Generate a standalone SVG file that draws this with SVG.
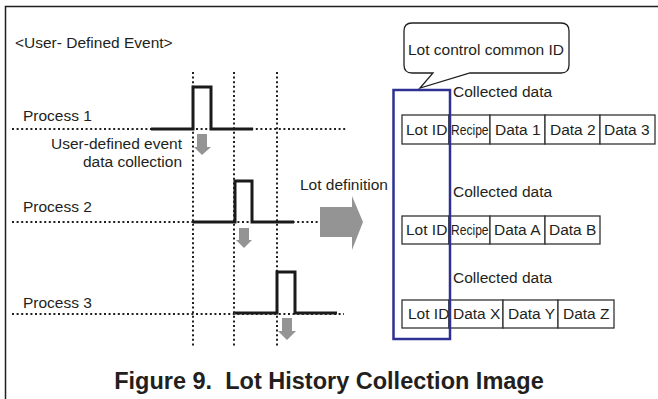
<svg xmlns="http://www.w3.org/2000/svg" width="658" height="399" viewBox="0 0 658 399">
<style>
text{font-family:"Liberation Sans",Arial,sans-serif;font-size:15.5px;fill:#231f20}
.dot{stroke:#231f20;stroke-width:2;stroke-dasharray:2 2.6;fill:none}
.sig{stroke:#1a1a1a;stroke-width:3;fill:none;stroke-linejoin:miter}
.cell{fill:#fff;stroke:#333;stroke-width:1.3}
.garrow{fill:#949494}
.cap{font-weight:bold;font-size:23.5px;text-anchor:middle}
</style>
<rect width="658" height="399" fill="#fff"/>
<path d="M5.5,399 V6.5 H658" fill="none" stroke="#231f20" stroke-width="1.5"/>
<text x="15" y="48">&lt;User- Defined Event&gt;</text>

<g id="gridlines">
<line class="dot" x1="193" y1="72" x2="193" y2="346"/>
<line class="dot" x1="234" y1="72" x2="234" y2="346"/>
<line class="dot" x1="277" y1="72" x2="277" y2="346"/>
</g>

<g id="process1">
<text x="23" y="121">Process 1</text>
<line class="dot" x1="12" y1="129" x2="346" y2="129"/>
<path class="sig" d="M151,129 H193 V87 H211 V129 H253"/>
<polygon class="garrow" points="197,134 207,134 207,147 211,147 202,155 194,147 197,147"/>
<text x="182" y="149" text-anchor="end">User-defined event</text>
<text x="182" y="167" text-anchor="end">data collection</text>
</g>

<g id="process2">
<text x="23" y="212">Process 2</text>
<line class="dot" x1="12" y1="222" x2="320" y2="222"/>
<path class="sig" d="M193,222 H235 V181 H252 V222 H294"/>
<polygon class="garrow" points="239,228 249,228 249,240 252,240 244,248 236,240 239,240"/>
</g>

<g id="process3">
<text x="23" y="308">Process 3</text>
<line class="dot" x1="12" y1="314" x2="344" y2="314"/>
<path class="sig" d="M235,313 H277 V272 H295 V313 H337"/>
<polygon class="garrow" points="282,318 292,318 292,331 296,331 287,340 278,331 282,331"/>
</g>

<g id="lotdef">
<text x="300" y="190">Lot definition</text>
<polygon fill="#949494" points="320,207 352,207 352,196 363,222 352,250 352,237 320,237"/>
</g>

<g id="callout">
<path d="M412,23 H561 Q569,23 569,31 V65 Q569,73 561,73 H470 L420,88 L433,73 H412 Q404,73 404,65 V31 Q404,23 412,23 Z" fill="#fff" stroke="#231f20" stroke-width="1.3"/>
<text x="408" y="55">Lot control common ID</text>
</g>

<g id="row1">
<text x="453" y="97">Collected data</text>
<rect class="cell" x="402" y="115" width="47" height="29"/>
<rect class="cell" x="449" y="115" width="41" height="29"/>
<rect class="cell" x="490" y="115" width="55" height="29"/>
<rect class="cell" x="545" y="115" width="55" height="29"/>
<rect class="cell" x="600" y="115" width="55" height="29"/>
<text x="406" y="135">Lot ID</text>
<text transform="translate(451,135) scale(0.78,1)">Recipe</text>
<text x="495" y="135">Data 1</text>
<text x="550" y="135">Data 2</text>
<text x="604" y="135">Data 3</text>
</g>

<g id="row2">
<text x="453" y="197">Collected data</text>
<rect class="cell" x="402" y="216" width="47" height="28"/>
<rect class="cell" x="449" y="216" width="41" height="28"/>
<rect class="cell" x="490" y="216" width="55" height="28"/>
<rect class="cell" x="545" y="216" width="55" height="28"/>
<text x="406" y="235">Lot ID</text>
<text transform="translate(451,235) scale(0.78,1)">Recipe</text>
<text x="494" y="235">Data A</text>
<text x="549" y="235">Data B</text>
</g>

<g id="row3">
<text x="453" y="283">Collected data</text>
<rect class="cell" x="402" y="300" width="47" height="28"/>
<rect class="cell" x="449" y="300" width="54" height="28"/>
<rect class="cell" x="503" y="300" width="55" height="28"/>
<rect class="cell" x="558" y="300" width="56" height="28"/>
<text x="408" y="319">Lot ID</text>
<text x="453" y="319">Data X</text>
<text x="508" y="319">Data Y</text>
<text x="563" y="319">Data Z</text>
</g>

<g id="lotid-box">
<rect x="393.5" y="90" width="56.5" height="249" fill="none" stroke="#2e3192" stroke-width="2.5"/>
</g>

<text class="cap" x="329" y="389" xml:space="preserve">Figure 9.  Lot History Collection Image</text>
</svg>
